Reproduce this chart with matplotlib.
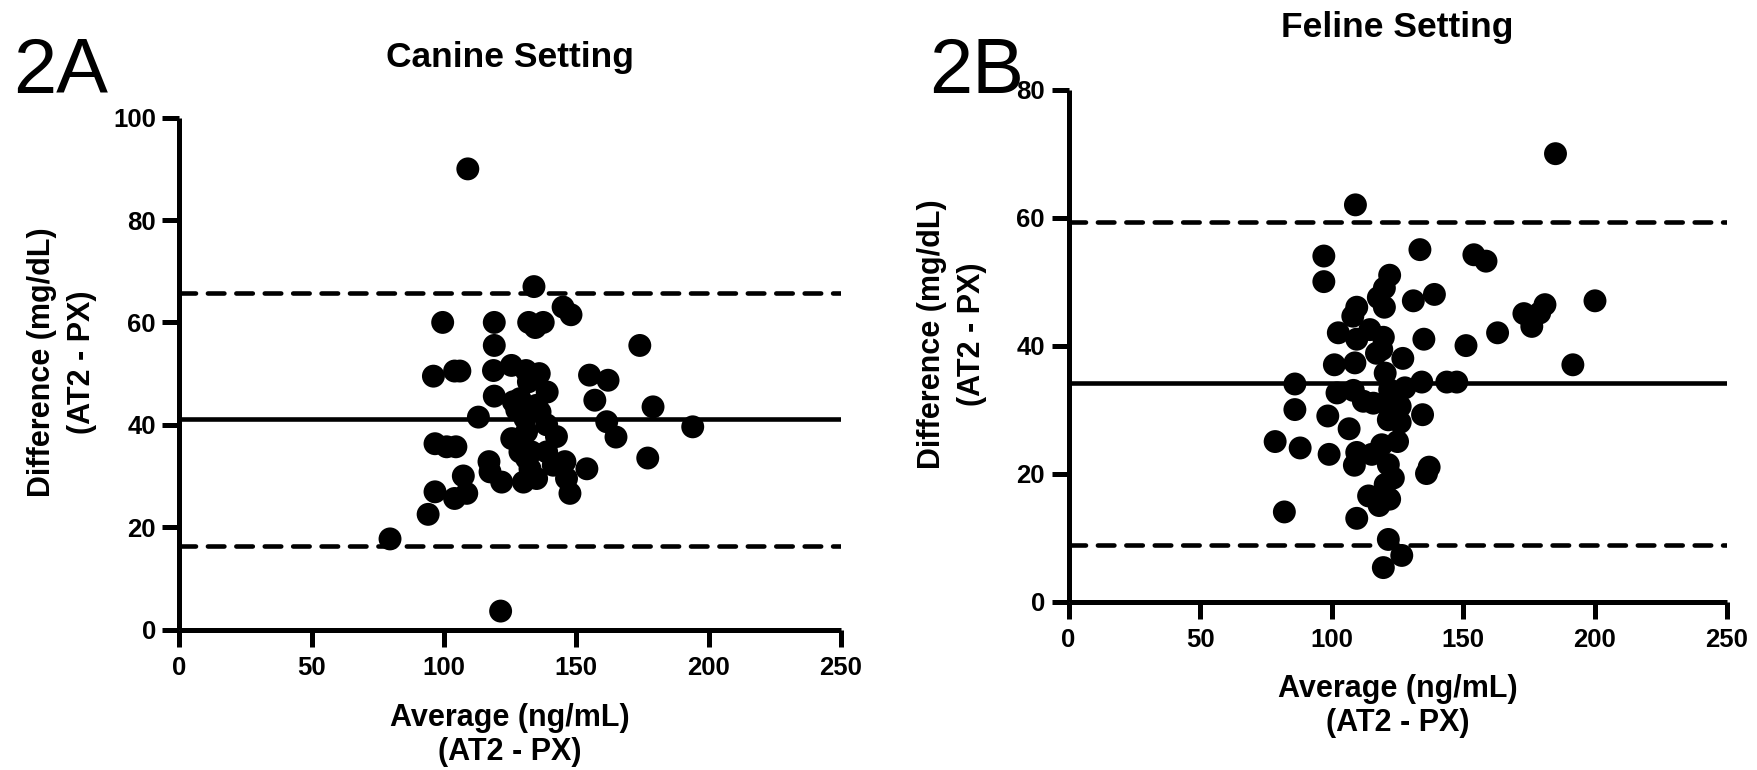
import matplotlib
matplotlib.use("Agg")
import matplotlib.pyplot as plt
from matplotlib import font_manager

# ---------------- data ----------------
canine_avg = [109, 121.4, 79.6, 94, 96.6, 104, 108.6, 107.3, 96.6, 101, 104.5, 113, 117,
              96, 104, 106, 99.5, 119, 119, 118.7, 119, 125.5, 131, 136, 134, 132, 137.5,
              134.5, 145, 148, 155, 162, 139, 157, 174, 179, 194, 161.5, 165, 177, 154,
              147.6, 128.7, 131.2, 117.4, 121.8, 130, 135, 141.3, 145.7, 146.3, 142.5,
              138.8, 136.3, 135, 126.2, 128.7, 130.6, 131.2, 133.1, 138.8, 127.5, 131.9,
              125.6, 132.5]
canine_diff = [90, 3.6, 17.7, 22.5, 26.9, 25.6, 26.6, 30, 36.3, 35.7, 35.7, 41.5, 32.8,
               49.5, 50.5, 50.5, 60, 60, 55.5, 50.6, 45.6, 51.6, 50.6, 50, 67, 60, 60,
               59, 63, 61.5, 49.7, 48.7, 46.4, 44.8, 55.5, 43.5, 39.6, 40.6, 37.6, 33.5,
               31.4, 26.6, 34.7, 33.4, 30.8, 28.8, 28.8, 29.5, 32.1, 32.8, 29.5, 37.7,
               40, 42.5, 43.8, 44.5, 45.1, 41.2, 38.6, 34.7, 34.7, 42.9, 48.4, 37.3, 31.4]
canine_lines = {"mean": 41.1, "upper": 65.8, "lower": 16.3}

feline_avg = [109, 97, 97, 133.5, 154, 158.6, 122, 120, 117.7, 120, 131, 139, 109.5, 108,
              102.5, 114.5, 119.6, 109.5, 135, 151, 101, 108.8, 127, 117, 86, 86, 78.5, 88,
              82, 99, 98.5, 102, 106.6, 108.2, 109.5, 108.6, 109.5, 112, 115.8, 114, 118,
              122, 120.3, 123.4, 121.5, 119, 115.2, 125, 121.5, 122, 122, 120.3, 119,
              127.8, 134.2, 143.7, 147.5, 134.5, 137, 136, 121.5, 126.6, 119.6, 185, 200,
              163, 173, 181, 179, 176, 191.6, 126, 126]
feline_diff = [62, 54, 50, 55, 54.2, 53.2, 51, 49, 47.5, 46, 47, 48, 46, 44.6, 42, 42.5,
               41.3, 41, 41, 40, 37, 37.3, 38, 38.8, 34, 30, 25, 24, 14, 23, 29, 32.6, 27,
               33, 23.3, 21.3, 13, 31.3, 31, 16.5, 15, 16, 18.3, 19.3, 21.4, 24.5, 23, 25,
               28.4, 30.2, 33.1, 35.7, 39.4, 33.4, 34.3, 34.3, 34.3, 29.2, 21, 20, 9.7, 7.2,
               5.3, 70, 47, 42, 45, 46.4, 45.1, 43, 37, 30.5, 28]
feline_lines = {"mean": 34.1, "upper": 59.3, "lower": 8.9}

titles = ["Canine Setting", "Feline Setting"]
panel_labels = ["2A", "2B"]
xlabel = "Average (ng/mL)\n(AT2 - PX)"
ylabel = "Difference (mg/dL)\n(AT2 - PX)"
x_ticks = [0, 50, 100, 150, 200, 250]
canine_yticks = [0, 20, 40, 60, 80, 100]
feline_yticks = [0, 20, 40, 60, 80]

# ---------------- fonts ----------------
avail = {f.name for f in font_manager.fontManager.ttflist}
fam = "Liberation Sans" if "Liberation Sans" in avail else "DejaVu Sans"
plt.rcParams["font.family"] = [fam, "DejaVu Sans"]

W, H = 1758, 770
fig = plt.figure(figsize=(W / 100, H / 100), dpi=100)

def px_axes(x0, x1, ytop, ybot):
    return [x0 / W, 1 - ybot / H, (x1 - x0) / W, (ybot - ytop) / H]

ax1 = fig.add_axes(px_axes(179.4, 840.9, 117.7, 629.5))
ax2 = fig.add_axes(px_axes(1068.5, 1726.6, 89.7, 601.5))

def style(ax, ymax, yticks):
    ax.set_xlim(0, 250)
    ax.set_ylim(0, ymax)
    ax.set_xticks(x_ticks)
    ax.set_yticks(yticks)
    for s in ["top", "right"]:
        ax.spines[s].set_visible(False)
    for s in ["left", "bottom"]:
        ax.spines[s].set_linewidth(3.6)
        ax.spines[s].set_capstyle("butt")
    ax.tick_params(axis="both", which="major", direction="out", length=12, width=3.6,
                   labelsize=18.5)
    ax.tick_params(axis="x", pad=7)
    ax.tick_params(axis="y", pad=5)
    for lab in ax.get_xticklabels() + ax.get_yticklabels():
        lab.set_fontweight("bold")

def draw(ax, xs, ys, lines):
    ax.axhline(lines["mean"], color="black", lw=3.3, zorder=2)
    for k in ("upper", "lower"):
        ax.axhline(lines[k], color="black", lw=3.3, ls=(0, (3.6, 2.6)),
                   dash_capstyle="round", zorder=2)
    ax.scatter(xs, ys, s=16.5 ** 2, color="black", edgecolors="none", zorder=3,
               clip_on=False)

draw(ax1, canine_avg, canine_diff, canine_lines)
draw(ax2, feline_avg, feline_diff, feline_lines)
style(ax1, 100, canine_yticks)
style(ax2, 80, feline_yticks)

# titles
fig.text(510 / W, 1 - 58 / H, titles[0], ha="center", va="center", fontsize=25.5,
         fontweight="bold")
fig.text(1397.5 / W, 1 - 27 / H, titles[1], ha="center", va="center", fontsize=25.5,
         fontweight="bold")

# panel labels
fig.text(13 / W, 1 - 93 / H, panel_labels[0], ha="left", va="baseline", fontsize=56)
fig.text(929 / W, 1 - 93 / H, panel_labels[1], ha="left", va="baseline", fontsize=56)

# axis labels
fig.text(510 / W, 1 - 735 / H, xlabel, ha="center", va="center", fontsize=22,
         fontweight="bold", linespacing=1.2)
fig.text(1397.5 / W, 1 - 706 / H, xlabel, ha="center", va="center", fontsize=22,
         fontweight="bold", linespacing=1.2)
fig.text(62 / W, 1 - 362 / H, ylabel, ha="center", va="center", fontsize=22,
         fontweight="bold", rotation=90, linespacing=1.4)
fig.text(952 / W, 1 - 334 / H, ylabel, ha="center", va="center", fontsize=22,
         fontweight="bold", rotation=90, linespacing=1.4)

fig.savefig("out.png", dpi=100, facecolor="white")
